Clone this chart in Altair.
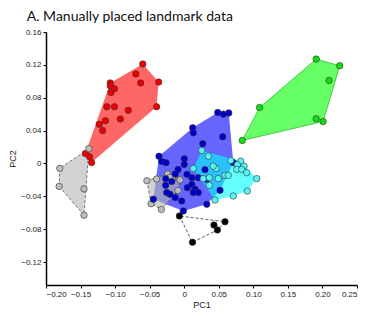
import altair as alt
import pandas as pd

# ---- data ----
red_x = [-0.060, -0.070, -0.063, -0.037, -0.040, -0.107, -0.107, -0.101, -0.106, -0.112,
         -0.101, -0.081, -0.0925, -0.114, -0.123, -0.118, -0.143, -0.137, -0.134]
red_y = [0.121, 0.109, 0.098, 0.099, 0.069, 0.098, 0.0945, 0.091, 0.0864, 0.069,
         0.069, 0.0646, 0.054, 0.052, 0.0476, 0.040, 0.012, 0.008, 0.001]

green_x = [0.191, 0.225, 0.2095, 0.109, 0.191, 0.201, 0.084]
green_y = [0.127, 0.119, 0.101, 0.068, 0.0545, 0.051, 0.028]

blue_x = [0.0485, 0.0566, 0.0644, 0.0123, 0.0132, 0.0557, 0.0268, -0.0365, -0.0326, -0.0263,
          0.0001, 0.000, 0.030, -0.013, -0.0268, -0.018, 0.011, 0.0204, 0.0326, 0.0045,
          0.011, 0.0156, 0.0204, 0.0132, -0.0205, -0.0253, -0.013, -0.0036, -0.0268, -0.0447,
          -0.0013, 0.0326, 0.0518, -0.009, 0.004, 0.071]
blue_y = [0.062, 0.060, 0.0615, 0.0433, 0.0372, 0.0324, 0.0239, 0.0088, 0.0024, 0.0008,
          0.0057, -0.0012, -0.0076, -0.013, -0.0185, -0.022, -0.0173, -0.0173, -0.0194, -0.0295,
          -0.0255, -0.0315, -0.0355, -0.0355, -0.0376, -0.0355, -0.0416, -0.0457, -0.0267, -0.0436,
          -0.0578, -0.0497, -0.0327, -0.0073, -0.0133, 0.001]

cyan_x = [0.0253, 0.0349, 0.0673, 0.0818, 0.0768, 0.0865, 0.076, 0.0832, 0.0904, 0.0132,
          0.046, 0.0276, 0.0363, 0.0493, 0.059, 0.0638, 0.0363, 0.1049, 0.0913, 0.071,
          0.0446, 0.042]
cyan_y = [0.0158, 0.0088, 0.0036, 0.0028, -0.0016, -0.0033, -0.0073, -0.0073, -0.0113, -0.0061,
          -0.0061, -0.0185, -0.0173, -0.0185, -0.0145, -0.0145, -0.0267, -0.0185, -0.0336, -0.0396,
          -0.0445, -0.0033]

gray1_x = [-0.138, -0.180, -0.181, -0.145, -0.145]
gray1_y = [0.018, -0.006, -0.028, -0.031, -0.063]

gray2_x = [-0.054, -0.040, -0.024, -0.017, -0.006, -0.009, -0.048, -0.033, -0.021]
gray2_y = [-0.021, -0.019, -0.013, -0.019, -0.020, -0.033, -0.049, -0.056, -0.017]

black_x = [-0.007, 0.059, 0.043, 0.048, 0.012]
black_y = [-0.064, -0.071, -0.075, -0.081, -0.096]

x_ticks = [-0.20, -0.15, -0.10, -0.05, 0, 0.05, 0.10, 0.15, 0.20, 0.25]
y_ticks = [-0.12, -0.08, -0.04, 0, 0.04, 0.08, 0.12, 0.16]

groups = {
    "red":   (red_x, red_y),
    "green": (green_x, green_y),
    "blue":  (blue_x, blue_y),
    "cyan":  (cyan_x, cyan_y),
    "gray1": (gray1_x, gray1_y),
    "gray2": (gray2_x, gray2_y),
    "black": (black_x, black_y),
}

# style per group: (point fill, hull fill, hull fill opacity, hull stroke, dash)
styles = {
    "red":   ("#EE0000", "#FF0000", 0.6, None, None),
    "green": ("#11DD11", "#00FF00", 0.6, "#33BB33", None),
    "blue":  ("#0000CC", "#0000FF", 0.6, None, None),
    "cyan":  ("#55F5F5", "#00FFFF", 0.6, None, None),
    "gray1": ("#BDBDBD", "#B4B4B4", 0.6, "#555555", [3, 2]),
    "gray2": ("#BDBDBD", "#B4B4B4", 0.6, "#555555", [3, 2]),
    "black": ("#000000", None, 0.0, "#333333", [3, 2]),
}


def convex_hull(pts):
    pts = sorted(set(pts))
    if len(pts) <= 2:
        return pts

    def cross(o, a, b):
        return (a[0] - o[0]) * (b[1] - o[1]) - (a[1] - o[1]) * (b[0] - o[0])

    lower = []
    for p in pts:
        while len(lower) >= 2 and cross(lower[-2], lower[-1], p) <= 0:
            lower.pop()
        lower.append(p)
    upper = []
    for p in reversed(pts):
        while len(upper) >= 2 and cross(upper[-2], upper[-1], p) <= 0:
            upper.pop()
        upper.append(p)
    return lower[:-1] + upper[:-1]


xscale = alt.Scale(domain=[-0.2, 0.25], nice=False, zero=False)
yscale = alt.Scale(domain=[-0.148, 0.16], nice=False, zero=False)

label_expr = "datum.value == 0 ? '0' : format(datum.value, '.2f')"
xaxis = alt.Axis(values=x_ticks, labelExpr=label_expr, title="PC1", grid=False)
yaxis = alt.Axis(values=y_ticks, labelExpr=label_expr, title="PC2", grid=False)

X = alt.X("x:Q", scale=xscale, axis=xaxis)
Y = alt.Y("y:Q", scale=yscale, axis=yaxis)

layers = []
hull_order = ["red", "green", "blue", "cyan", "gray1", "gray2", "black"]
for g in hull_order:
    xs, ys = groups[g]
    h = convex_hull(list(zip(xs, ys)))
    h = h + [h[0]]
    df = pd.DataFrame({"x": [p[0] for p in h], "y": [p[1] for p in h], "o": list(range(len(h)))})
    pf, hf, op, st, dash = styles[g]
    kw = {}
    if hf is not None:
        kw["fill"] = hf
        kw["fillOpacity"] = op
    if st is not None:
        kw["stroke"] = st
        kw["strokeWidth"] = 0.8
    else:
        kw["strokeOpacity"] = 0
    if dash is not None:
        kw["strokeDash"] = dash
    layers.append(
        alt.Chart(df).mark_line(interpolate="linear", **kw).encode(
            x=X, y=Y, order=alt.Order("o:Q")
        )
    )

rows = []
point_order = ["red", "green", "gray1", "gray2", "blue", "cyan", "black"]
for g in point_order:
    xs, ys = groups[g]
    for a, b in zip(xs, ys):
        rows.append({"x": a, "y": b, "group": g})
pts = pd.DataFrame(rows)

points = alt.Chart(pts).mark_point(
    filled=True, size=42, stroke="#333333", strokeWidth=0.6, opacity=1
).encode(
    x=X,
    y=Y,
    fill=alt.Fill("group:N", scale=alt.Scale(domain=list(styles.keys()),
                                             range=[styles[k][0] for k in styles]),
                  legend=None),
)
layers.append(points)

chart = alt.layer(*layers).properties(
    width=311,
    height=253,
    autosize=alt.AutoSizeParams(type="none"),
    padding={"left": 38, "top": 24, "right": 20, "bottom": 25},
    title=alt.TitleParams(
        "A. Manually placed landmark data",
        anchor="start", dx=18, fontSize=14, font="Lato", fontWeight="normal",
        color="#111111", offset=4,
    ),
).configure_view(stroke=None).configure_axis(
    domainColor="black", domainWidth=1.5, tickColor="black", tickWidth=1, tickSize=3,
    labelFont="Liberation Sans", labelFontSize=8, labelColor="#222222", labelPadding=2,
    titleFont="Liberation Sans", titleFontSize=9, titleFontWeight="normal", titleColor="#222222",
).configure_axisY(titlePadding=3).configure_axisX(titlePadding=2)

chart.save("out.html", embed_options={"renderer": "svg", "actions": False})
